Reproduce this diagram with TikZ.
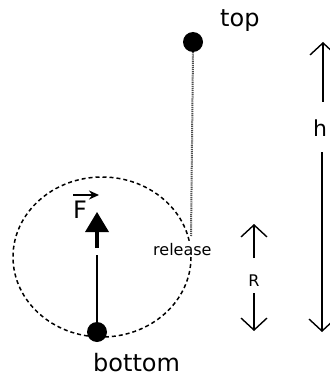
\documentclass[tikz,border=0pt]{standalone}
\usepackage{fontspec}
\setmainfont{DejaVu Sans}
\usetikzlibrary{arrows.meta}
\tikzset{
  lbl/.style={inner sep=0pt, anchor=base west, text=black},
  dotnode/.style={circle, fill=black, minimum size=20pt, inner sep=0pt},
  dimarrow/.style={line width=1.4pt, -{Straight Barb[length=12pt, width=26pt, line width=1.4pt]}},
  orbit/.style={dashed, dash pattern=on 4pt off 3pt, line width=1.5pt},
  drop/.style={dash pattern=on 1.2pt off 0.9pt, line width=2pt, draw=black!70}
}
\begin{document}
\begin{tikzpicture}[x=1pt, y=-1pt]
\useasboundingbox (0,0) rectangle (329,377);
% orbit
\draw[orbit] (102,257) ellipse [x radius=89, y radius=80];
% drop line from top
\node[dotnode] (topdot) at (193,42) {};
\coordinate (rel) at (191,236);
\draw[drop] (topdot.south) -- (rel);
\node[lbl, fill=white, inner ysep=1pt, font=\fontsize{16}{16}\selectfont] (release) at (153,255) {release};
% bottom dot and force arrow
\node[dotnode] (botdot) at (97,332) {};
\coordinate (shaftend) at (97,255);
\coordinate (stemlo) at (97,248);
\coordinate (stemhi) at (97,231);
\coordinate (headtip) at (97,212);
\draw[line width=1.8pt] (botdot.center) -- (shaftend);
\draw[line width=4.5pt] (stemlo) -- (stemhi);
\fill (85,232) -- (109,232) -- (headtip) -- cycle;
% F vector
\node[lbl, font=\fontsize{24}{24}\selectfont] (F) at (73,218) {F};
\coordinate (fva) at (73,195);
\coordinate (fvb) at (99,195);
\draw[line width=1.5pt, -{Stealth[length=10pt, width=9pt]}] (fva) -- (fvb);
% labels
\node[lbl, font=\fontsize{24}{24}\selectfont] (top) at (220,27) {top};
\node[lbl, font=\fontsize{24}{24}\selectfont] (bottom) at (93,371) {bottom};
% R dimension
\node[inner sep=0pt, font=\fontsize{16}{16}\selectfont] (R) at (254,281) {R};
\coordinate (Rup0) at (254,258);
\coordinate (Rup1) at (254,224);
\coordinate (Rdn0) at (254,293);
\coordinate (Rdn1) at (254,331);
\draw[dimarrow] (Rup0) -- (Rup1);
\draw[dimarrow] (Rdn0) -- (Rdn1);
% h dimension
\node[inner sep=0pt, font=\fontsize{22}{22}\selectfont] (h) at (320,128) {h};
\coordinate (hup0) at (323,102);
\coordinate (hup1) at (323,42);
\coordinate (hdn0) at (322,152);
\coordinate (hdn1) at (322,332);
\draw[dimarrow] (hup0) -- (hup1);
\draw[dimarrow] (hdn0) -- (hdn1);
\end{tikzpicture}
\end{document}
